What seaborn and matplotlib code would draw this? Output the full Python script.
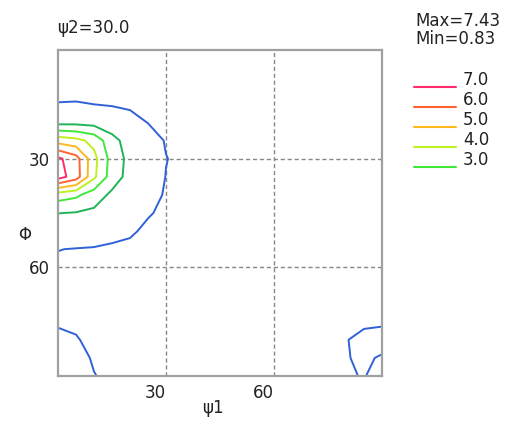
import numpy as np
import matplotlib
matplotlib.use("Agg")
import matplotlib.pyplot as plt
from matplotlib.lines import Line2D
import seaborn as sns

# ODF section psi2 = 30 deg, values on a 5 deg grid
psi1 = [0, 5, 10, 15, 20, 25, 30, 35, 40, 45, 50, 55, 60, 65, 70, 75, 80, 85, 90]
phi = [0, 5, 10, 15, 20, 25, 30, 35, 40, 45, 50, 55, 60, 65, 70, 75, 80, 85, 90]

# rows = phi, columns = psi1
odf = [
    [0.86, 0.86, 0.87, 0.88, 0.89, 0.90, 0.91, 0.92, 0.92, 0.92, 0.91, 0.90, 0.90, 0.90, 0.90, 0.91, 0.92, 0.92, 0.92],
    [0.87, 0.87, 0.88, 0.89, 0.90, 0.90, 0.91, 0.92, 0.92, 0.92, 0.91, 0.90, 0.89, 0.89, 0.90, 0.91, 0.92, 0.92, 0.92],
    [0.92, 0.92, 0.92, 0.91, 0.90, 0.90, 0.90, 0.91, 0.91, 0.91, 0.90, 0.89, 0.88, 0.88, 0.89, 0.90, 0.91, 0.91, 0.91],
    [1.01, 1.015, 1.00, 0.95, 0.93, 0.92, 0.90, 0.90, 0.90, 0.90, 0.89, 0.88, 0.87, 0.87, 0.88, 0.89, 0.90, 0.90, 0.90],
    [1.70, 1.72, 1.62, 1.45, 1.15, 0.99, 0.93, 0.91, 0.90, 0.89, 0.88, 0.87, 0.86, 0.86, 0.87, 0.88, 0.89, 0.89, 0.89],
    [4.60, 4.30, 3.70, 2.30, 1.60, 1.20, 0.97, 0.91, 0.89, 0.88, 0.87, 0.86, 0.85, 0.85, 0.86, 0.87, 0.88, 0.88, 0.88],
    [7.20, 6.40, 4.30, 2.60, 1.70, 1.30, 1.01, 0.92, 0.89, 0.88, 0.86, 0.85, 0.85, 0.85, 0.86, 0.87, 0.88, 0.88, 0.88],
    [7.43, 6.50, 4.20, 2.50, 1.65, 1.25, 0.99, 0.91, 0.89, 0.87, 0.86, 0.85, 0.84, 0.85, 0.86, 0.87, 0.88, 0.88, 0.88],
    [3.50, 3.20, 2.50, 1.80, 1.45, 1.15, 0.96, 0.90, 0.88, 0.87, 0.85, 0.84, 0.84, 0.84, 0.85, 0.86, 0.87, 0.88, 0.88],
    [2.02, 1.95, 1.80, 1.55, 1.25, 1.03, 0.93, 0.89, 0.87, 0.86, 0.85, 0.84, 0.83, 0.84, 0.85, 0.86, 0.87, 0.88, 0.88],
    [1.40, 1.38, 1.30, 1.12, 1.05, 0.93, 0.90, 0.88, 0.87, 0.86, 0.85, 0.84, 0.83, 0.84, 0.85, 0.86, 0.87, 0.88, 0.89],
    [1.01, 0.98, 0.96, 0.94, 0.92, 0.90, 0.89, 0.88, 0.87, 0.86, 0.85, 0.84, 0.84, 0.84, 0.85, 0.86, 0.88, 0.89, 0.90],
    [0.92, 0.91, 0.90, 0.90, 0.89, 0.88, 0.87, 0.87, 0.86, 0.86, 0.85, 0.85, 0.84, 0.85, 0.86, 0.87, 0.88, 0.90, 0.91],
    [0.90, 0.90, 0.89, 0.89, 0.88, 0.88, 0.87, 0.87, 0.86, 0.86, 0.86, 0.85, 0.85, 0.86, 0.87, 0.88, 0.89, 0.91, 0.93],
    [0.93, 0.92, 0.90, 0.89, 0.89, 0.88, 0.88, 0.87, 0.87, 0.87, 0.86, 0.86, 0.86, 0.87, 0.88, 0.89, 0.91, 0.93, 0.95],
    [0.97, 0.95, 0.92, 0.90, 0.89, 0.89, 0.88, 0.88, 0.88, 0.87, 0.87, 0.87, 0.87, 0.88, 0.88, 0.90, 0.93, 0.96, 0.97],
    [1.06, 1.02, 0.93, 0.91, 0.90, 0.89, 0.89, 0.88, 0.88, 0.88, 0.87, 0.87, 0.87, 0.88, 0.90, 0.94, 0.99, 1.06, 1.08],
    [1.15, 1.10, 0.97, 0.92, 0.90, 0.89, 0.89, 0.89, 0.88, 0.88, 0.88, 0.87, 0.88, 0.88, 0.90, 0.95, 0.99, 1.03, 0.98],
    [1.22, 1.16, 1.01, 0.94, 0.91, 0.90, 0.89, 0.89, 0.89, 0.88, 0.88, 0.88, 0.88, 0.89, 0.90, 0.93, 0.99, 1.005, 0.96],
]

levels = [1.0, 2.0, 3.0, 4.0, 5.0, 6.0, 7.0]
level_colors = ["#2f62d8", "#20b45a", "#3fe83a", "#bff020", "#ffb81e", "#ff6430", "#ff2a6a"]
legend_levels = [7.0, 6.0, 5.0, 4.0, 3.0]
tick_values = [30, 60]

sns.set_style("white")
plt.rcParams["font.family"] = ["DejaVu Sans"]
plt.rcParams["font.size"] = 12

W, H = 519, 426
fig = plt.figure(figsize=(W / 100, H / 100), dpi=100)
ax = fig.add_axes([58 / W, 1 - 376 / H, 324 / W, 326 / H])

ax.contour(psi1, phi, np.array(odf), levels=levels, colors=level_colors, linewidths=1.4)

ax.set_xlim(0, 90)
ax.set_ylim(90, 0)
ax.set_xticks(tick_values)
ax.set_yticks(tick_values)
ax.set_xticklabels([str(t) for t in tick_values])
ax.set_yticklabels([str(t) for t in tick_values])
ax.tick_params(length=0, labelsize=12, colors="#222222")
ax.tick_params(axis="x", pad=6)
ax.tick_params(axis="y", pad=6)
for lab in ax.get_xticklabels():
    lab.set_ha("right")
ax.grid(True, color="#888888", linewidth=1, linestyle=(0, (3, 2)))
for s in ax.spines.values():
    s.set_color("#a0a0a0")
    s.set_linewidth(1.6)

ax.text((213 - 58) / 324, (376 - 408) / 326, "ψ1", transform=ax.transAxes,
        ha="center", va="center", fontsize=12, color="#222222")
ax.text((25 - 58) / 324, (376 - 235) / 326, "Φ", transform=ax.transAxes,
        ha="center", va="center", fontsize=12, color="#222222")

fig.text(57 / W, 1 - 33 / H, "ψ2=30.0", ha="left", va="baseline", fontsize=12, color="#222222")
fig.text(415 / W, 1 - 26 / H, "Max=7.43", ha="left", va="baseline", fontsize=12, color="#222222")
fig.text(415 / W, 1 - 44 / H, "Min=0.83", ha="left", va="baseline", fontsize=12, color="#222222")

# legend of the upper contour levels
for i, lev in enumerate(legend_levels):
    col = level_colors[levels.index(lev)]
    y = 1 - (87 + 20 * i) / H
    fig.add_artist(Line2D([414 / W, 456 / W], [y, y], color=col, linewidth=1.5,
                          transform=fig.transFigure))
    fig.text(463 / W, 1 - (80 + 20 * i) / H, f"{lev:.1f}", ha="left", va="center",
             fontsize=12, color="#222222")

fig.savefig("out.png", dpi=100)
